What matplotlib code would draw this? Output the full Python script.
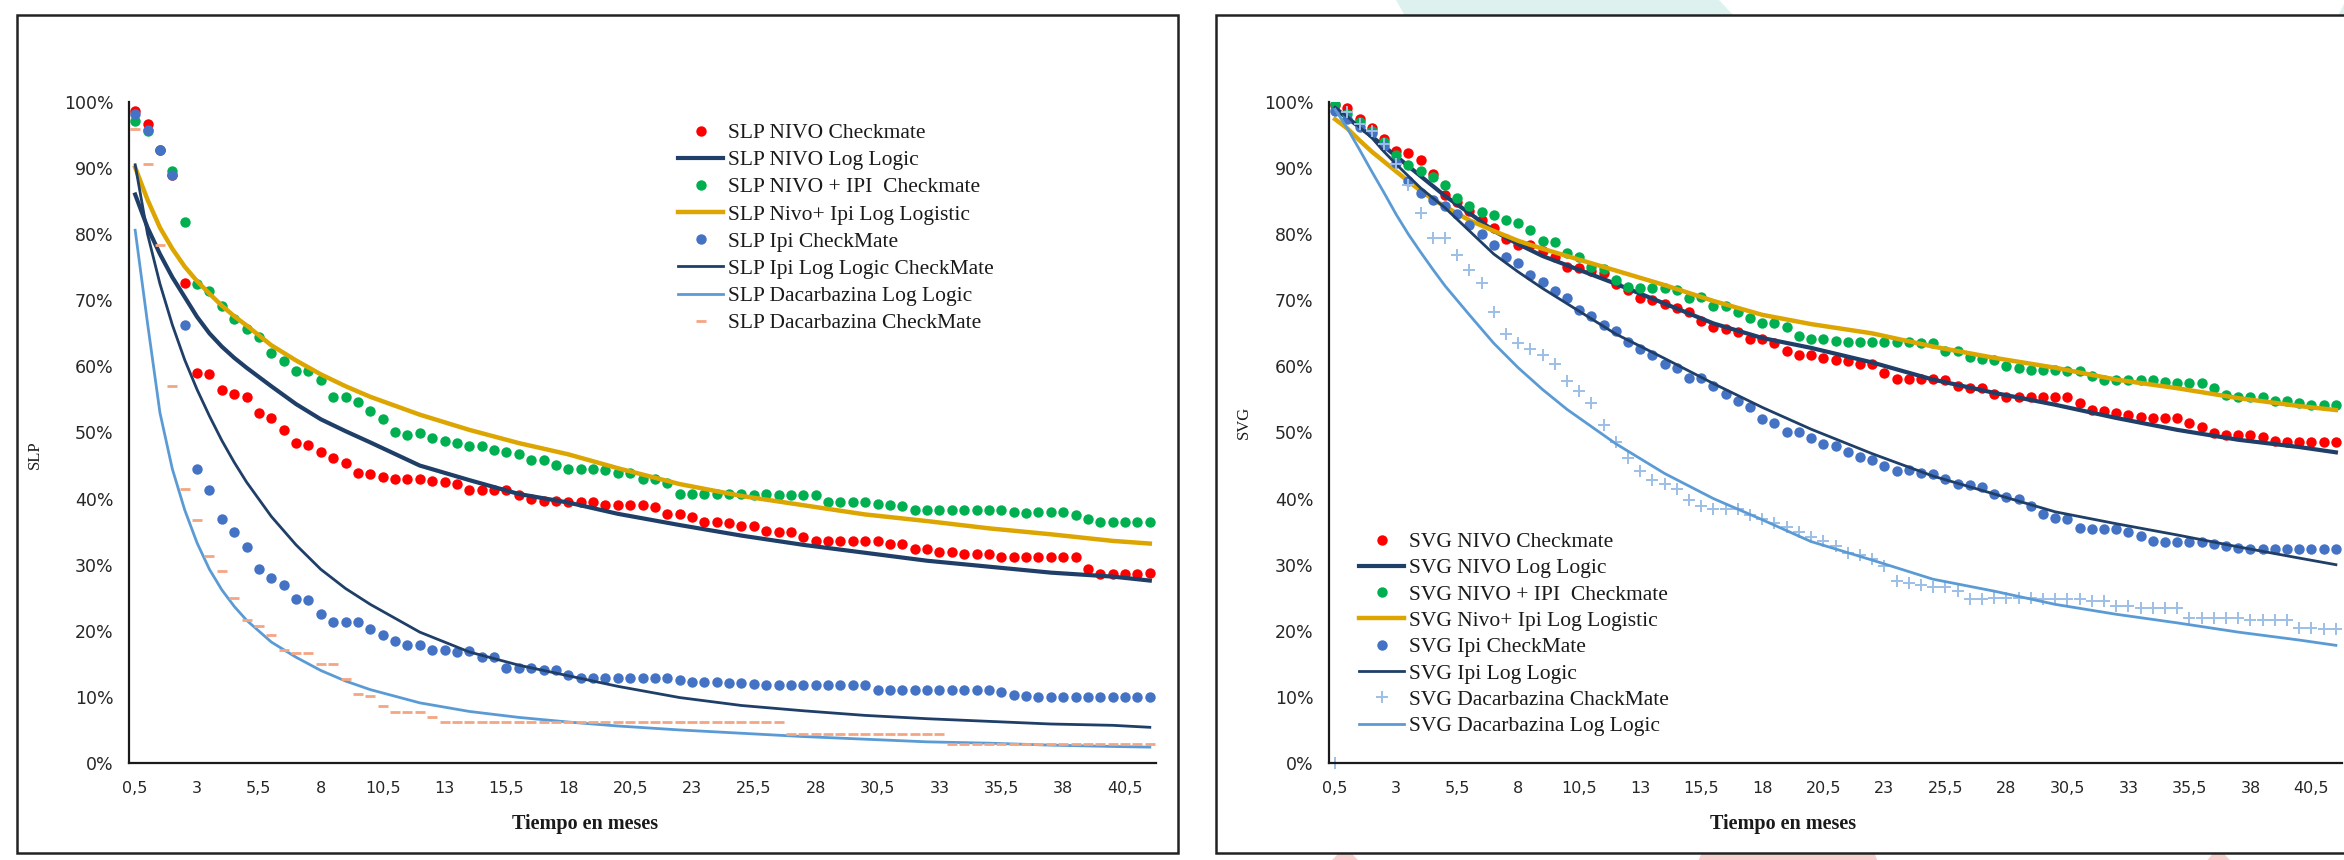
import matplotlib
matplotlib.use("Agg")
import matplotlib.pyplot as plt
from matplotlib.patches import Rectangle, Polygon

# ---------------- data ----------------
months = [0.5 * k for k in range(1, 84)]                      # 0,5 ... 41,5 (categories)
tick_months = [0.5 + 2.5 * k for k in range(17)]              # 0,5 3 5,5 ... 40,5
tick_labels = [f"{m:g}".replace(".", ",") for m in tick_months]
y_ticks = list(range(0, 101, 10))
y_labels = [f"{v}%" for v in y_ticks]

line_months = [0.5, 1, 1.5, 2, 2.5, 3, 3.5, 4, 4.5, 5, 6, 7, 8, 9, 10, 12, 14, 16, 18, 20,
               22.5, 25, 27.5, 30, 32.5, 35, 37.5, 40, 41.5]

# --- SLP (left) ---
slp_nivo_cm = [98.6, 96.6, 92.7, 89.0, 72.6, 59.0, 58.8, 56.5, 55.8, 55.3, 53.0, 52.2, 50.4, 48.4, 48.1,
               47.0, 46.1, 45.4, 43.9, 43.7, 43.3, 42.9, 42.9, 42.9, 42.7, 42.5, 42.2, 41.3, 41.3, 41.3,
               41.3, 40.5, 40.0, 39.6, 39.6, 39.5, 39.5, 39.5, 39.1, 39.1, 39.1, 39.1, 38.7, 37.7, 37.7,
               37.2, 36.5, 36.5, 36.3, 35.9, 35.9, 35.1, 34.9, 34.9, 34.2, 33.6, 33.6, 33.6, 33.6, 33.6,
               33.6, 33.2, 33.2, 32.4, 32.4, 31.9, 31.9, 31.6, 31.6, 31.6, 31.1, 31.1, 31.1, 31.1, 31.1,
               31.1, 31.1, 29.3, 28.6, 28.6, 28.6, 28.6, 28.8]
slp_nivoipi_cm = [97.2, 95.6, 92.8, 89.5, 81.9, 72.4, 71.4, 69.1, 67.1, 65.7, 64.4, 62.0, 60.8, 59.3, 59.3,
                  58.0, 55.3, 55.3, 54.6, 53.2, 52.0, 50.1, 49.6, 49.9, 49.1, 48.7, 48.4, 47.9, 47.9, 47.4,
                  47.1, 46.8, 45.8, 45.8, 45.1, 44.5, 44.5, 44.5, 44.3, 43.8, 43.8, 42.9, 42.9, 42.3, 40.7,
                  40.7, 40.7, 40.7, 40.7, 40.7, 40.5, 40.7, 40.5, 40.5, 40.5, 40.5, 39.5, 39.5, 39.5, 39.5,
                  39.2, 39.1, 38.9, 38.2, 38.2, 38.2, 38.2, 38.2, 38.2, 38.2, 38.2, 37.9, 37.8, 37.9, 37.9,
                  37.9, 37.5, 36.9, 36.5, 36.5, 36.5, 36.5, 36.5]
slp_ipi_cm = [98.2, 95.7, 92.7, 89.0, 66.2, 44.5, 41.3, 36.9, 34.9, 32.7, 29.3, 28.0, 27.0, 24.8, 24.7,
              22.5, 21.4, 21.4, 21.4, 20.3, 19.4, 18.5, 17.9, 17.9, 17.1, 17.1, 16.8, 16.9, 16.1, 16.1,
              14.4, 14.4, 14.4, 14.1, 14.1, 13.3, 12.9, 12.9, 12.8, 12.8, 12.8, 12.8, 12.8, 12.8, 12.5,
              12.3, 12.3, 12.3, 12.1, 12.1, 12.0, 11.8, 11.8, 11.8, 11.8, 11.8, 11.8, 11.8, 11.8, 11.8,
              11.1, 11.1, 11.1, 11.1, 11.1, 11.1, 11.1, 11.1, 11.1, 11.1, 10.7, 10.3, 10.2, 10.0, 10.0,
              10.0, 10.0, 10.0, 10.0, 10.0, 10.0, 10.0, 10.0]
slp_dacar_cm = [95.9, 90.6, 78.4, 57.0, 41.5, 36.7, 31.3, 29.1, 25.0, 21.7, 20.7, 19.4, 17.1, 16.6, 16.6,
                15.0, 15.0, 12.7, 10.5, 10.2, 8.6, 7.7, 7.7, 7.7, 6.9, 6.2, 6.2, 6.2, 6.2, 6.2,
                6.2, 6.2, 6.2, 6.2, 6.2, 6.2, 6.2, 6.2, 6.2, 6.2, 6.2, 6.2, 6.2, 6.2, 6.2,
                6.2, 6.2, 6.2, 6.2, 6.2, 6.2, 6.2, 6.2, 4.4, 4.4, 4.4, 4.4, 4.4, 4.4, 4.4,
                4.4, 4.4, 4.4, 4.4, 4.4, 4.4, 2.9, 2.9, 2.9, 2.9, 2.9, 2.9, 2.9, 2.9, 2.9,
                2.9, 2.9, 2.9, 2.9, 2.9, 2.9, 2.9, 2.9]
slp_nivo_ll = [86.0, 81.0, 77.0, 73.5, 70.5, 67.5, 65.0, 63.0, 61.3, 59.8, 57.0, 54.3, 52.0, 50.2, 48.5,
               45.0, 42.8, 40.7, 39.4, 37.7, 36.0, 34.4, 33.0, 31.8, 30.6, 29.7, 28.8, 28.2, 27.6]
slp_nivoipi_ll = [90.1, 85.2, 81.0, 77.8, 75.1, 72.9, 71.0, 69.2, 67.6, 66.2, 63.2, 60.9, 58.8, 57.0, 55.4,
                  52.7, 50.4, 48.4, 46.7, 44.6, 42.2, 40.4, 39.0, 37.6, 36.6, 35.5, 34.6, 33.6, 33.2]
slp_ipi_ll = [90.5, 80.0, 72.5, 66.3, 61.0, 56.5, 52.5, 48.8, 45.5, 42.5, 37.3, 33.0, 29.3, 26.4, 24.0,
              19.8, 16.8, 14.8, 13.2, 11.6, 9.9, 8.7, 7.9, 7.2, 6.7, 6.3, 5.9, 5.7, 5.4]
slp_dacar_ll = [80.6, 66.5, 53.0, 44.5, 38.3, 33.3, 29.3, 26.2, 23.7, 21.6, 18.3, 16.0, 14.0, 12.4, 11.1,
                9.1, 7.8, 6.9, 6.2, 5.6, 5.0, 4.5, 4.0, 3.6, 3.2, 3.0, 2.7, 2.5, 2.4]

# --- SVG (right) ---
svg_nivo_cm = [99.5, 99.1, 97.4, 96.0, 94.4, 92.6, 92.3, 91.3, 89.1, 86.0, 84.8, 83.5, 82.1, 80.9, 79.2,
               78.4, 78.4, 77.4, 76.5, 75.1, 74.9, 74.5, 74.1, 72.4, 71.5, 70.3, 70.0, 69.5, 68.9, 68.2,
               66.9, 66.0, 65.6, 65.2, 64.1, 64.2, 63.6, 62.4, 61.7, 61.7, 61.3, 60.9, 60.8, 60.4, 60.3,
               59.0, 58.1, 58.1, 58.1, 58.1, 58.0, 57.0, 56.8, 56.8, 55.8, 55.3, 55.3, 55.3, 55.3, 55.3,
               55.3, 54.4, 53.4, 53.2, 52.9, 52.7, 52.4, 52.2, 52.2, 52.2, 51.4, 50.9, 49.9, 49.6, 49.6,
               49.6, 49.3, 48.7, 48.5, 48.5, 48.5, 48.5, 48.5]
svg_nivoipi_cm = [99.7, 98.2, 96.9, 95.6, 93.9, 92.0, 90.5, 89.6, 88.7, 87.5, 85.5, 84.2, 83.4, 82.9, 82.2,
                  81.7, 80.7, 78.9, 78.8, 77.1, 76.5, 75.1, 74.7, 73.0, 72.0, 71.8, 71.8, 71.8, 71.6, 70.3,
                  70.5, 69.2, 69.2, 68.2, 67.3, 66.6, 66.6, 65.9, 64.6, 64.1, 64.2, 63.9, 63.7, 63.7, 63.7,
                  63.7, 63.7, 63.7, 63.5, 63.6, 62.4, 62.4, 61.4, 61.1, 61.0, 60.0, 59.8, 59.5, 59.4, 59.5,
                  59.3, 59.3, 58.5, 58.0, 57.9, 57.9, 57.9, 57.9, 57.7, 57.5, 57.5, 57.5, 56.8, 55.7, 55.3,
                  55.3, 55.3, 54.7, 54.7, 54.4, 54.2, 54.2, 54.2]
svg_ipi_cm = [98.7, 97.4, 96.2, 95.3, 93.4, 90.8, 88.0, 86.2, 85.2, 84.2, 83.0, 81.4, 80.0, 78.4, 76.5,
              75.6, 73.8, 72.8, 71.4, 70.3, 68.5, 67.7, 66.2, 65.4, 63.7, 62.6, 61.7, 60.4, 59.8, 58.3,
              58.3, 57.0, 55.8, 54.7, 53.8, 52.0, 51.4, 50.1, 50.1, 49.1, 48.3, 47.9, 47.1, 46.3, 45.8,
              45.0, 44.1, 44.3, 43.8, 43.7, 42.9, 42.2, 42.0, 41.7, 40.7, 40.2, 40.0, 38.9, 37.7, 37.0,
              36.9, 35.6, 35.4, 35.4, 35.4, 34.9, 34.4, 33.6, 33.4, 33.4, 33.4, 33.4, 33.1, 32.9, 32.6,
              32.3, 32.3, 32.3, 32.3, 32.3, 32.3, 32.3, 32.3]
svg_dacar_cm = [0.0, 98.5, 96.7, 95.6, 93.6, 90.6, 87.5, 83.2, 79.4, 79.4, 76.8, 74.6, 72.6, 68.3, 64.9,
                63.6, 62.6, 61.7, 60.4, 57.8, 56.3, 54.4, 51.1, 48.5, 46.1, 44.1, 42.8, 42.2, 41.5, 39.8,
                38.9, 38.5, 38.5, 38.5, 37.5, 36.9, 36.3, 35.7, 34.9, 34.2, 33.6, 32.9, 31.8, 31.4, 30.9,
                29.8, 27.6, 27.3, 27.0, 26.6, 26.6, 26.0, 24.8, 24.8, 25.0, 25.0, 25.0, 25.0, 24.8, 24.8,
                24.8, 24.8, 24.5, 24.5, 23.7, 23.7, 23.4, 23.4, 23.4, 23.4, 22.0, 22.0, 22.0, 22.0, 22.0,
                21.6, 21.6, 21.6, 21.6, 20.4, 20.4, 20.2, 20.2]
svg_nivo_ll = [98.9, 97.6, 96.2, 94.8, 93.3, 91.8, 90.3, 88.8, 87.3, 85.8, 83.2, 80.5, 78.5, 76.7, 75.3,
               72.5, 69.5, 66.5, 64.3, 62.8, 60.6, 58.0, 56.0, 54.2, 52.2, 50.4, 48.9, 47.8, 47.0]
svg_nivoipi_ll = [97.4, 96.0, 94.2, 92.5, 91.0, 89.5, 88.0, 86.6, 85.3, 84.2, 82.1, 80.5, 79.0, 77.8, 76.7,
                  74.5, 72.3, 69.9, 67.8, 66.4, 65.0, 63.0, 61.3, 59.8, 58.0, 56.7, 55.2, 54.0, 53.4]
svg_ipi_ll = [99.2, 97.8, 96.2, 94.6, 92.5, 90.6, 88.8, 87.0, 85.5, 84.0, 80.5, 77.0, 74.3, 71.8, 69.5,
              64.9, 61.2, 57.4, 53.8, 50.5, 46.8, 43.4, 40.7, 38.0, 36.2, 34.5, 32.7, 31.0, 30.0]
svg_dacar_ll = [98.9, 96.0, 92.8, 89.5, 86.3, 83.0, 80.0, 77.3, 74.7, 72.2, 67.8, 63.5, 59.8, 56.5, 53.5,
                48.3, 43.8, 40.0, 36.8, 33.5, 30.7, 27.8, 26.0, 24.0, 22.5, 21.2, 19.8, 18.6, 17.8]

# ---------------- style ----------------
RED, GREEN, BLUE = "#FF0000", "#00B050", "#4472C4"
NAVY, GOLD, LBLUE = "#1F3F68", "#DDA500", "#5B9BD5"
SALMON, PLUS = "#F4A582", "#9DBFE6"
SERIF = ["Liberation Serif", "DejaVu Serif"]
SANS = ["DejaVu Sans"]

W, H = 2344, 860
fig = plt.figure(figsize=(W / 100, H / 100), dpi=100)
fig.patch.set_facecolor("white")


def fx(px):
    return px / W


def fy(py):
    return 1 - py / H


# background decorations of the slide
fig.add_artist(Polygon([(fx(1396), fy(0)), (fx(1719), fy(0)), (fx(1734), fy(16)), (fx(1405), fy(16))],
                       closed=True, transform=fig.transFigure, fc="#DDF2EF", ec="none", zorder=-3))
fig.add_artist(Polygon([(fx(2338), fy(16)), (fx(2346), fy(0)), (fx(2346), fy(16))],
                       closed=True, transform=fig.transFigure, fc="#DDF2EF", ec="none", zorder=-3))
for x0, x1, x2, x3 in [(1330, 1340, 1350, 1360), (1698, 1702, 1874, 1878), (2206, 2214, 2222, 2232)]:
    fig.add_artist(Polygon([(fx(x0), fy(H + 2)), (fx(x1), fy(852)), (fx(x2), fy(852)), (fx(x3), fy(H + 2))],
                           closed=True, transform=fig.transFigure, fc="#F8CFCF", ec="none", zorder=-3))

# chart frames
fig.add_artist(Rectangle((fx(17), fy(853)), fx(1178 - 17), (853 - 15) / H, transform=fig.transFigure,
                         fill=True, fc="white", ec="#222222", lw=1.8, zorder=-2))
fig.add_artist(Rectangle((fx(1216), fy(853)), fx(2400 - 1216), (853 - 15) / H, transform=fig.transFigure,
                         fill=True, fc="white", ec="#222222", lw=1.8, zorder=-2))

ax_bottom, ax_top = 763, 102
axL = fig.add_axes([fx(129), fy(ax_bottom), fx(1156 - 129), (ax_bottom - ax_top) / H])
axR = fig.add_axes([fx(1329), fy(ax_bottom), fx(2342 - 1329), (ax_bottom - ax_top) / H])

DOT = dict(linestyle="none", marker="o", markersize=7.5, markeredgewidth=0)


def style_axes(ax):
    ax.patch.set_visible(False)
    ax.set_xlim(0.25, 41.75)
    ax.set_ylim(0, 100)
    for s in ("top", "right"):
        ax.spines[s].set_visible(False)
    for s in ("left", "bottom"):
        ax.spines[s].set_color("#1a1a1a")
        ax.spines[s].set_linewidth(1.6)
    ax.set_xticks(tick_months)
    ax.set_xticklabels(tick_labels, fontfamily=SANS, fontsize=11.5, color="#262626")
    ax.set_yticks(y_ticks)
    ax.set_yticklabels(y_labels, fontfamily=SANS, fontsize=12.5, color="#262626")
    ax.tick_params(axis="both", length=0)
    ax.tick_params(axis="x", pad=13)
    ax.tick_params(axis="y", pad=11)


style_axes(axL)
style_axes(axR)

# ---------- left: SLP ----------
axL.plot(months, slp_nivo_cm, color=RED, label="SLP NIVO Checkmate", **DOT)
axL.plot(line_months, slp_nivo_ll, color=NAVY, lw=3.0, label="SLP NIVO Log Logic")
axL.plot(months, slp_nivoipi_cm, color=GREEN, label="SLP NIVO + IPI  Checkmate", **DOT)
axL.plot(line_months, slp_nivoipi_ll, color=GOLD, lw=3.2, label="SLP Nivo+ Ipi Log Logistic")
axL.plot(months, slp_ipi_cm, color=BLUE, label="SLP Ipi CheckMate", **DOT)
axL.plot(line_months, slp_ipi_ll, color=NAVY, lw=2.0, label="SLP Ipi Log Logic CheckMate")
axL.plot(line_months, slp_dacar_ll, color=LBLUE, lw=2.0, label="SLP Dacarbazina Log Logic")
axL.plot(months, slp_dacar_cm, color=SALMON, linestyle="none", marker="_", markersize=7,
         markeredgewidth=2.0, label="SLP Dacarbazina CheckMate")

# ---------- right: SVG ----------
axR.plot(months, svg_nivo_cm, color=RED, label="SVG NIVO Checkmate", **DOT)
axR.plot(line_months, svg_nivo_ll, color=NAVY, lw=3.0, label="SVG NIVO Log Logic")
axR.plot(months, svg_nivoipi_cm, color=GREEN, label="SVG NIVO + IPI  Checkmate", **DOT)
axR.plot(line_months, svg_nivoipi_ll, color=GOLD, lw=3.2, label="SVG Nivo+ Ipi Log Logistic")
axR.plot(months, svg_ipi_cm, color=BLUE, label="SVG Ipi CheckMate", **DOT)
axR.plot(line_months, svg_ipi_ll, color=NAVY, lw=2.0, label="SVG Ipi Log Logic")
axR.plot(months, svg_dacar_cm, color=PLUS, linestyle="none", marker="+", markersize=8.5,
         markeredgewidth=1.4, label="SVG Dacarbazina ChackMate", clip_on=False)
axR.plot(line_months, svg_dacar_ll, color=LBLUE, lw=2.0, label="SVG Dacarbazina Log Logic")

LEG = dict(frameon=False, prop={"family": SERIF, "size": 15.5}, handlelength=2.1, handletextpad=0.2,
           borderpad=0, borderaxespad=0, markerscale=1.0)
legL = axL.legend(loc="upper left", bbox_to_anchor=(fx(678), fy(123)), bbox_transform=fig.transFigure,
                  labelspacing=0.33, **LEG)
legR = axR.legend(loc="upper left", bbox_to_anchor=(fx(1359), fy(532)), bbox_transform=fig.transFigure,
                  labelspacing=0.29, **LEG)
for leg in (legL, legR):
    for t in leg.get_texts():
        t.set_color("#1a1a1a")

# axis titles
fig.text(fx(35), fy(455), "SLP", rotation=90, ha="center", va="center", family=SERIF, fontsize=12, color="#1a1a1a")
fig.text(fx(1244), fy(422), "SVG", rotation=90, ha="center", va="center", family=SERIF, fontsize=12, color="#1a1a1a")
fig.text(fx(585), fy(824), "Tiempo en meses", ha="center", va="center", family=SERIF, fontsize=14.5,
         fontweight="bold", color="#1a1a1a")
fig.text(fx(1783), fy(824), "Tiempo en meses", ha="center", va="center", family=SERIF, fontsize=14.5,
         fontweight="bold", color="#1a1a1a")

fig.savefig("out.png", dpi=100, facecolor="white")
